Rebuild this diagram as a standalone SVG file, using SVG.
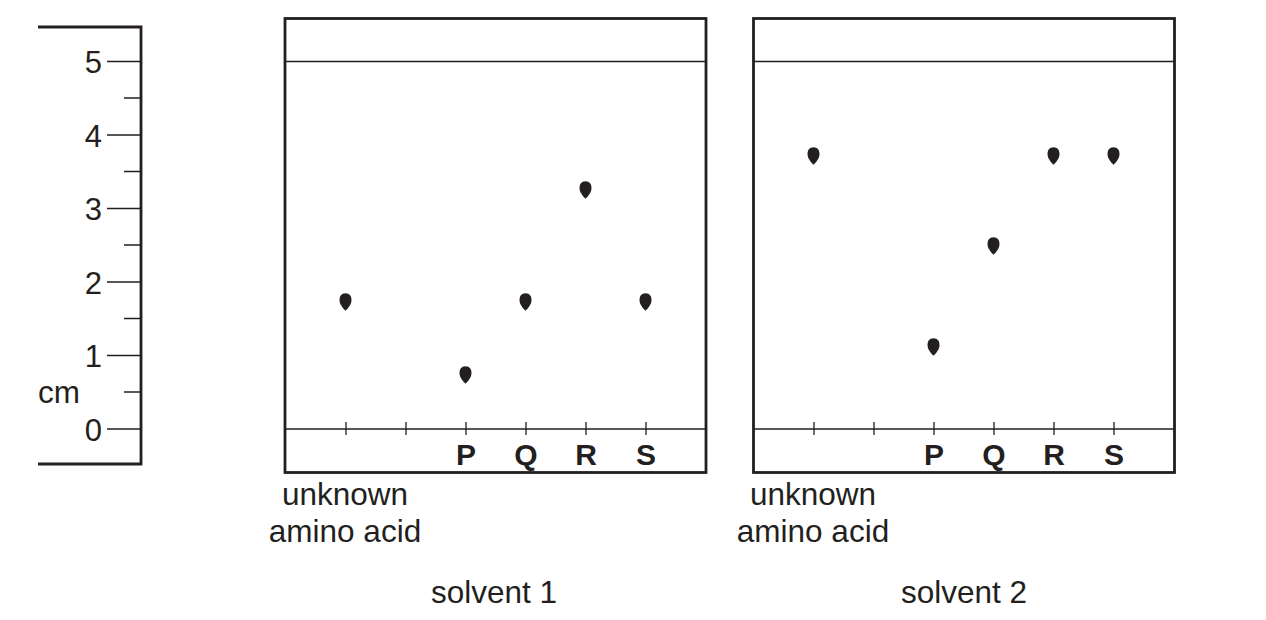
<svg xmlns="http://www.w3.org/2000/svg" width="1266" height="620" viewBox="0 0 1266 620">
<style>
text{font-family:"Liberation Sans",Arial,sans-serif;fill:#231f20;}
.lbl{font-size:31.5px;}
.num{font-size:31px;text-anchor:end;}
.let{font-size:30px;font-weight:bold;text-anchor:middle;}
.mid{text-anchor:middle;}
.frame{fill:none;stroke:#231f20;stroke-width:2.8;}
.thin{stroke:#231f20;stroke-width:1.3;fill:none;}
.spot{fill:#231f20;}
</style>
<defs>
<path id="spot" d="M0,-8.8 C4.2,-8.8 6,-5.5 6,-2 C6,2.2 2.5,6.5 0,8.8 C-2.5,6.5 -6,2.2 -6,-2 C-6,-5.5 -4.2,-8.8 0,-8.8 Z"/>
</defs>
<g id="ruler">
<path class="frame" d="M38,27 H141 V464 H38"/>
<path class="thin" d="M107,61.5 H141 M107,135 H141 M107,208.5 H141 M107,282 H141 M107,355.5 H141 M107,429 H141 M124,98 H141 M124,171.5 H141 M124,245 H141 M124,318.5 H141 M124,392 H141"/>
<text class="num" x="102" y="73">5</text>
<text class="num" x="102" y="146.5">4</text>
<text class="num" x="102" y="220">3</text>
<text class="num" x="102" y="293.5">2</text>
<text class="num" x="102" y="367">1</text>
<text class="num" x="102" y="440.5">0</text>
<text class="lbl" x="38" y="403">cm</text>
</g>
<g id="plate1">
<rect class="frame" x="285" y="18.5" width="421" height="454"/>
<path class="thin" d="M285,61.5 H706 M285,429 H706 M346,422 V435 M406,422 V435 M466,422 V435 M526,422 V435 M586,422 V435 M646,422 V435"/>
<text class="let" x="466" y="465">P</text>
<text class="let" x="526" y="465">Q</text>
<text class="let" x="586" y="465">R</text>
<text class="let" x="646" y="465">S</text>
<use href="#spot" class="spot" x="345.5" y="302"/>
<use href="#spot" class="spot" x="465.5" y="375"/>
<use href="#spot" class="spot" x="525.5" y="302"/>
<use href="#spot" class="spot" x="585.5" y="190"/>
<use href="#spot" class="spot" x="645.5" y="302"/>
<text class="lbl mid" x="345" y="505">unknown</text>
<text class="lbl mid" x="345" y="542">amino acid</text>
<text class="lbl mid" x="494" y="603">solvent 1</text>
</g>
<g id="plate2">
<rect class="frame" x="753.5" y="18.5" width="421" height="454"/>
<path class="thin" d="M753.5,61.5 H1174.5 M753.5,429 H1174.5 M814,422 V435 M874,422 V435 M934,422 V435 M994,422 V435 M1054,422 V435 M1114,422 V435"/>
<text class="let" x="934" y="465">P</text>
<text class="let" x="994" y="465">Q</text>
<text class="let" x="1054" y="465">R</text>
<text class="let" x="1114" y="465">S</text>
<use href="#spot" class="spot" x="813.5" y="156"/>
<use href="#spot" class="spot" x="933.5" y="347"/>
<use href="#spot" class="spot" x="993.5" y="246"/>
<use href="#spot" class="spot" x="1053.5" y="156"/>
<use href="#spot" class="spot" x="1113.5" y="156"/>
<text class="lbl mid" x="813" y="505">unknown</text>
<text class="lbl mid" x="813" y="542">amino acid</text>
<text class="lbl mid" x="964" y="603">solvent 2</text>
</g>
</svg>
